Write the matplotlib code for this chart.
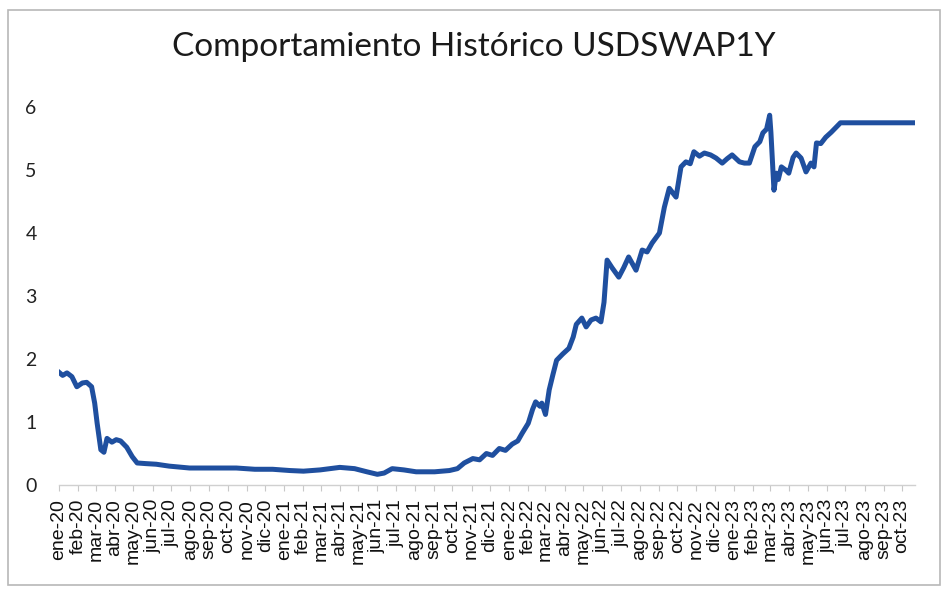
import matplotlib
matplotlib.use("Agg")
import matplotlib.pyplot as plt
from matplotlib.patches import Rectangle
import pandas as pd

# USDSWAP1Y
fechas = [
    "2020-01-01", "2020-01-07", "2020-01-14", "2020-01-22", "2020-01-30",
    "2020-02-08", "2020-02-15", "2020-02-23", "2020-02-28", "2020-03-03",
    "2020-03-09", "2020-03-14", "2020-03-19", "2020-03-27", "2020-04-03",
    "2020-04-10", "2020-04-20", "2020-04-29", "2020-05-07", "2020-05-21",
    "2020-06-07", "2020-06-28", "2020-07-31", "2020-09-02", "2020-10-15",
    "2020-11-14", "2020-12-13", "2021-01-10", "2021-02-01", "2021-02-28",
    "2021-04-01", "2021-04-25", "2021-05-15", "2021-06-01", "2021-06-12",
    "2021-06-25", "2021-07-14", "2021-08-03", "2021-09-02", "2021-09-26",
    "2021-10-09", "2021-10-20", "2021-11-03", "2021-11-14", "2021-11-25",
    "2021-12-05", "2021-12-16", "2021-12-26", "2022-01-06", "2022-01-15",
    "2022-01-22", "2022-02-01", "2022-02-08", "2022-02-13", "2022-02-20",
    "2022-02-23", "2022-03-01", "2022-03-07", "2022-03-13", "2022-03-19",
    "2022-03-29", "2022-04-08", "2022-04-15", "2022-04-20", "2022-04-29",
    "2022-05-06", "2022-05-14", "2022-05-22", "2022-05-30", "2022-06-04",
    "2022-06-09", "2022-06-17", "2022-06-28", "2022-07-06", "2022-07-14",
    "2022-07-26", "2022-08-05", "2022-08-13", "2022-08-21", "2022-09-02",
    "2022-09-10", "2022-09-18", "2022-09-25", "2022-09-29", "2022-10-07",
    "2022-10-15", "2022-10-22", "2022-10-28", "2022-11-06", "2022-11-14",
    "2022-11-24", "2022-12-03", "2022-12-13", "2022-12-21", "2022-12-29",
    "2023-01-10", "2023-01-18", "2023-01-26", "2023-02-04", "2023-02-12",
    "2023-02-17", "2023-02-23", "2023-02-28", "2023-03-02", "2023-03-07",
    "2023-03-11", "2023-03-14", "2023-03-19", "2023-03-26", "2023-03-31",
    "2023-04-07", "2023-04-12", "2023-04-20", "2023-04-28", "2023-05-06",
    "2023-05-11", "2023-05-15", "2023-05-22", "2023-05-30", "2023-06-08",
    "2023-06-15", "2023-06-23", "2023-10-20",
]
valores = [
    1.79, 1.74, 1.78, 1.72, 1.56,
    1.62, 1.63, 1.56, 1.30, 0.98,
    0.56, 0.52, 0.74, 0.68, 0.72,
    0.70, 0.60, 0.45, 0.35, 0.34,
    0.33, 0.30, 0.27, 0.27, 0.27,
    0.25, 0.25, 0.23, 0.22, 0.24,
    0.28, 0.26, 0.21, 0.17, 0.19,
    0.26, 0.24, 0.21, 0.21, 0.23,
    0.26, 0.35, 0.42, 0.40, 0.50,
    0.47, 0.58, 0.55, 0.65, 0.70,
    0.82, 0.98, 1.20, 1.32, 1.25,
    1.30, 1.12, 1.51, 1.75, 1.98,
    2.08, 2.17, 2.35, 2.55, 2.65,
    2.51, 2.62, 2.65, 2.59, 2.90,
    3.57, 3.45, 3.30, 3.45, 3.62,
    3.41, 3.73, 3.70, 3.84, 4.00,
    4.41, 4.71, 4.62, 4.57, 5.05,
    5.13, 5.10, 5.29, 5.22, 5.27,
    5.24, 5.19, 5.11, 5.18, 5.24,
    5.13, 5.11, 5.11, 5.37, 5.45,
    5.59, 5.65, 5.87, 5.60, 4.68,
    4.95, 4.85, 5.05, 5.00, 4.95,
    5.20, 5.27, 5.19, 4.97, 5.11,
    5.05, 5.43, 5.42, 5.52, 5.60,
    5.67, 5.75, 5.75,
]

meses = ["ene", "feb", "mar", "abr", "may", "jun", "jul", "ago", "sep", "oct", "nov", "dic"]
ticks_x = pd.date_range("2020-01-01", "2023-10-01", freq="MS")
etiquetas_x = [f"{meses[d.month - 1]}-{d.year % 100:02d}" for d in ticks_x]
ticks_y = [0, 1, 2, 3, 4, 5, 6]

fig = plt.figure(figsize=(9.48, 5.92), dpi=100)
ax = fig.add_axes([0.0622, 0.1807, 0.903, 0.6385])

ax.plot(pd.to_datetime(fechas), valores, color="#1f4f9f", linewidth=3.6,
        solid_joinstyle="round")

ax.set_xlim(pd.Timestamp("2020-01-01"), pd.Timestamp("2023-10-22"))
ax.set_ylim(0, 6)

ax.set_xticks(ticks_x)
ax.set_xticklabels(etiquetas_x, rotation=90, fontsize=14,
                   family=["Liberation Sans", "DejaVu Sans"], color="#111111")
ax.set_yticks(ticks_y)
ax.set_yticklabels([str(t) for t in ticks_y], fontsize=14,
                   family=["Lato", "DejaVu Sans"], color="#222222")

ax.tick_params(axis="x", length=4, width=0.8, color="#c8c8c8", pad=6)
ax.tick_params(axis="y", length=0, pad=16)

for side in ["top", "right", "left"]:
    ax.spines[side].set_visible(False)
ax.spines["bottom"].set_color("#d0d0d0")
ax.spines["bottom"].set_linewidth(1.0)

fig.text(0.5, 0.92, "Comportamiento Histórico USDSWAP1Y", ha="center", va="center",
         fontsize=24, family=["Lato", "DejaVu Sans"], color="#1a1a1a")

fig.patches.append(Rectangle((0.0084, 0.0118), 0.983, 0.971, transform=fig.transFigure,
                             fill=False, edgecolor="#b8b8b8", linewidth=1.2))

fig.savefig("out.png", dpi=100)
